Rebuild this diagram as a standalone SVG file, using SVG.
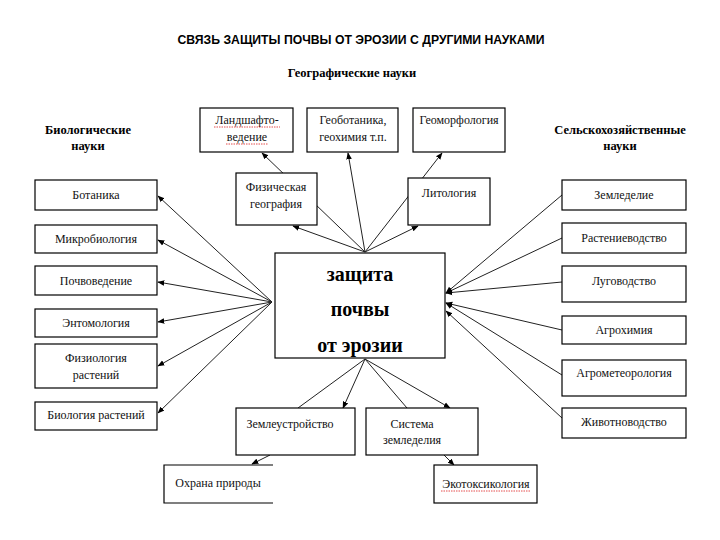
<svg xmlns="http://www.w3.org/2000/svg" width="720" height="540" viewBox="0 0 720 540">
<style>
.b{fill:#fff;stroke:#000;stroke-width:1.2}
.t{font-family:"Liberation Serif","Times New Roman",serif;font-size:12px;fill:#111;text-anchor:middle}
.h{font-family:"Liberation Serif","Times New Roman",serif;font-size:12.5px;font-weight:bold;fill:#000;text-anchor:middle}
.c{font-family:"Liberation Serif","Times New Roman",serif;font-size:20px;font-weight:bold;fill:#000;text-anchor:middle}
.l{stroke:#222;stroke-width:1;fill:none}
.a{marker-end:url(#ar)}
.w{stroke:#d22;stroke-width:0.8;fill:none;stroke-dasharray:1.5 1}
</style>
<defs>
<marker id="ar" viewBox="0 0 10 10" refX="9" refY="5" markerWidth="7" markerHeight="7" orient="auto" markerUnits="userSpaceOnUse">
<path d="M0,1 L10,5 L0,9 Z" fill="#000"/>
</marker>
</defs>
<rect width="720" height="540" fill="#fff"/>
<text x="361" y="44" font-family="'Liberation Sans',Arial,sans-serif" font-size="12.5" font-weight="bold" text-anchor="middle" textLength="367" lengthAdjust="spacingAndGlyphs">СВЯЗЬ ЗАЩИТЫ ПОЧВЫ ОТ ЭРОЗИИ С ДРУГИМИ НАУКАМИ</text>
<text class="h" x="352" y="77">Географические науки</text>
<text class="h" x="88" y="134">Биологические</text>
<text class="h" x="88" y="150">науки</text>
<text class="h" x="620" y="134">Сельскохозяйственные</text>
<text class="h" x="620" y="150">науки</text>
<g id="connectors">
<line class="l a" x1="365" y1="252" x2="262" y2="153"/>
<line class="l a" x1="365" y1="252" x2="293" y2="226"/>
<line class="l a" x1="365" y1="252" x2="348" y2="153"/>
<line class="l a" x1="365" y1="252" x2="442" y2="153"/>
<line class="l a" x1="365" y1="252" x2="418" y2="226"/>
<line class="l a" x1="272" y1="302" x2="158" y2="196"/>
<line class="l a" x1="272" y1="302" x2="158" y2="240"/>
<line class="l a" x1="272" y1="302" x2="158" y2="282"/>
<line class="l a" x1="272" y1="302" x2="158" y2="322"/>
<line class="l a" x1="272" y1="302" x2="158" y2="366"/>
<line class="l a" x1="272" y1="302" x2="158" y2="413"/>
<line class="l a" x1="562" y1="195" x2="446" y2="293"/>
<line class="l a" x1="562" y1="238" x2="446" y2="293"/>
<line class="l a" x1="562" y1="282" x2="446" y2="293"/>
<line class="l a" x1="562" y1="330" x2="446" y2="303"/>
<line class="l a" x1="562" y1="375" x2="446" y2="303"/>
<line class="l a" x1="562" y1="418" x2="446" y2="311"/>
<line class="l" x1="365" y1="359" x2="298" y2="408"/>
<line class="l a" x1="365" y1="359" x2="343" y2="408"/>
<line class="l" x1="365" y1="359" x2="407" y2="408"/>
<line class="l a" x1="365" y1="359" x2="450" y2="408"/>
<line class="l a" x1="270" y1="455" x2="252" y2="464"/>
<line class="l a" x1="444" y1="455" x2="454" y2="465"/>
</g>
<g id="landshaft"><rect class="b" x="200" y="108" width="93" height="44"/><text class="t" x="247" y="124">Ландшафто-</text><text class="t" x="247" y="141">ведение</text><path class="w" d="M214,127 h66 M226,144 h42"/></g>
<g id="geobot"><rect class="b" x="307" y="108" width="91" height="44"/><text class="t" x="353" y="124">Геоботаника,</text><text class="t" x="353" y="141">геохимия т.п.</text></g>
<g id="geomorf"><rect class="b" x="413" y="108" width="92" height="44"/><text class="t" x="459" y="124">Геоморфология</text></g>
<g id="fizgeo"><rect class="b" x="236" y="173" width="81" height="52"/><text class="t" x="276" y="191">Физическая</text><text class="t" x="276" y="208">география</text></g>
<g id="litol"><rect class="b" x="408" y="178" width="82" height="47"/><text class="t" x="449" y="197">Литология</text></g>
<g id="center"><rect class="b" x="275" y="253" width="170" height="105"/><text class="c" x="360" y="281">защита</text><text class="c" x="360" y="316">почвы</text><text class="c" x="360" y="352">от эрозии</text></g>
<g id="botanika"><rect class="b" x="35" y="180" width="122" height="30"/><text class="t" x="96" y="199">Ботаника</text></g>
<g id="mikrobio"><rect class="b" x="35" y="225" width="122" height="28"/><text class="t" x="96" y="243">Микробиология</text></g>
<g id="pochvoved"><rect class="b" x="35" y="266" width="122" height="29"/><text class="t" x="96" y="285">Почвоведение</text></g>
<g id="entomol"><rect class="b" x="35" y="309" width="122" height="28"/><text class="t" x="96" y="327">Энтомология</text></g>
<g id="fiziol"><rect class="b" x="35" y="344" width="122" height="44"/><text class="t" x="96" y="362">Физиология</text><text class="t" x="96" y="379">растений</text></g>
<g id="biolrast"><rect class="b" x="35" y="402" width="122" height="28"/><text class="t" x="96" y="419">Биология растений</text></g>
<g id="zemled"><rect class="b" x="562" y="180" width="124" height="30"/><text class="t" x="624" y="199">Земледелие</text></g>
<g id="rastenie"><rect class="b" x="562" y="223" width="124" height="30"/><text class="t" x="624" y="242">Растениеводство</text></g>
<g id="lugovod"><rect class="b" x="562" y="266" width="124" height="36"/><text class="t" x="624" y="285">Луговодство</text></g>
<g id="agrohim"><rect class="b" x="562" y="316" width="124" height="28"/><text class="t" x="624" y="334">Агрохимия</text></g>
<g id="agromet"><rect class="b" x="562" y="360" width="124" height="36"/><text class="t" x="624" y="377">Агрометеорология</text></g>
<g id="zhivot"><rect class="b" x="562" y="408" width="124" height="30"/><text class="t" x="624" y="426">Животноводство</text></g>
<g id="zemleustr"><rect class="b" x="236" y="408" width="119" height="47"/><text class="t" x="290" y="428">Землеустройство</text></g>
<g id="sistema"><rect class="b" x="366" y="408" width="112" height="47"/><text class="t" x="412" y="428">Система</text><text class="t" x="412" y="444">земледелия</text></g>
<g id="ohrana"><path class="b" d="M273,465 H164 V503 H273" fill="#fff"/><text class="t" x="218" y="487">Охрана природы</text></g>
<g id="ekotoks"><rect class="b" x="434" y="465" width="103" height="38"/><text class="t" x="486" y="488">Экотоксикология</text><path class="w" d="M441,491 h90"/></g>
</svg>
